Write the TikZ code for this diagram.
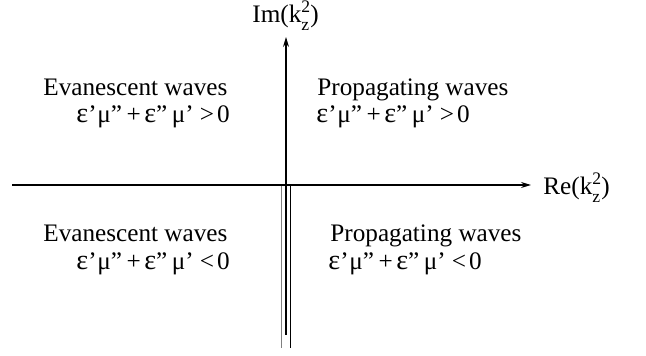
\documentclass[tikz,border=0pt]{standalone}
\usepackage{fontspec}
\usepackage{graphicx}
\setmainfont{Liberation Serif}
\usetikzlibrary{arrows.meta}
\newcommand{\kzz}{k\rlap{\raisebox{0.43em}{\fontsize{8.8pt}{9pt}\selectfont 2}}\raisebox{-0.3em}{\fontsize{8.8pt}{9pt}\selectfont z}\kern0.05em}
\newcommand{\bigeps}{\scalebox{1.12}{ε}}
\newcommand{\epsmu}[1]{\bigeps’\kern0.03emμ”\kern0.18em+\kern0.14em\bigeps”\kern0.18emμ’\kern0.24em#1\kern0.12em0}
\begin{document}
\begin{tikzpicture}[x=0.5pt,y=-0.5pt,
  lbl/.style={inner sep=0pt,anchor=base west,font=\fontsize{12.6pt}{15pt}\selectfont},
  axis/.style={line width=0.55pt,black},
  tip/.style={-{Stealth[length=5pt,width=3pt]}}]
\useasboundingbox (0,0) rectangle (646,356);
% coordinates
\coordinate (xl) at (12,185);
\coordinate (xr) at (531,185);
\coordinate (yb) at (286,335);
\coordinate (yt) at (286,37);
\coordinate (gt) at (281.5,186);
\coordinate (gb) at (281.5,348);
\coordinate (rt) at (290.5,186);
\coordinate (rb) at (290.5,348);
% axes
\draw[axis,tip] (xl) -- (xr);
\draw[axis,tip] (yb) -- (yt);
\draw[line width=0.6pt,gray] (gt) -- (gb);
\draw[axis] (rt) -- (rb);
% axis labels
\node[lbl] (im) at (252,23) {Im(\kzz)};
\node[lbl] (re) at (543,195) {Re(\kzz)};
% quadrant texts
\node[lbl] (ev1) at (43,96) {Evanescent waves};
\node[lbl] (ev1f) at (76,123) {\epsmu{>}};
\node[lbl] (pr1) at (317,96) {Propagating waves};
\node[lbl] (pr1f) at (316,123) {\epsmu{>}};
\node[lbl] (ev2) at (43,242) {Evanescent waves};
\node[lbl] (ev2f) at (76,270) {\epsmu{<}};
\node[lbl] (pr2) at (330,242) {Propagating waves};
\node[lbl] (pr2f) at (328,270) {\epsmu{<}};
\end{tikzpicture}
\end{document}
